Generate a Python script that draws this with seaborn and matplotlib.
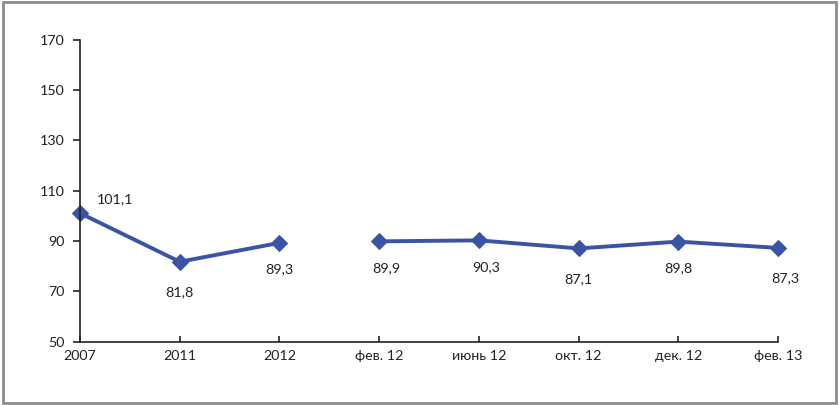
import matplotlib
matplotlib.use("Agg")
import matplotlib.pyplot as plt
import pandas as pd
import seaborn as sns

# --- данные ---
periods = ["2007", "2011", "2012", "фев. 12", "июнь 12", "окт. 12", "дек. 12", "фев. 13"]
values = [101.1, 81.8, 89.3, 89.9, 90.3, 87.1, 89.8, 87.3]
segments = [0, 0, 0, 1, 1, 1, 1, 1]   # разрыв линии между 2012 и фев. 12
y_ticks = [50, 70, 90, 110, 130, 150, 170]

LINE_COLOR = "#3A53A4"
FS = 10.3

sns.set_style("white")
plt.rcParams["font.family"] = ["Lato", "DejaVu Sans"]

df = pd.DataFrame({"period": periods, "value": values, "segment": segments})
df["pos"] = range(len(df))

fig = plt.figure(figsize=(8.39, 4.05), dpi=100)
ax = fig.add_axes([0.0954, 0.156, 0.832, 0.746])

sns.lineplot(data=df, x="pos", y="value", units="segment", estimator=None,
             color=LINE_COLOR, linewidth=2.8, marker="D", markersize=8,
             markeredgecolor=LINE_COLOR, ax=ax, legend=False)

# подписи значений
for i, row in df.iterrows():
    txt = f"{row['value']:.1f}".replace(".", ",")
    if i == 0:
        ax.annotate(txt, (row["pos"], row["value"]), xytext=(25, 10),
                    textcoords="offset points", ha="center", va="center",
                    fontsize=FS, color="#222222")
    else:
        dx = 5 if i in (3, 4, 7) else 0
        dy = -22 if i in (1, 5, 7) else -19
        ax.annotate(txt, (row["pos"], row["value"]), xytext=(dx, dy),
                    textcoords="offset points", ha="center", va="center",
                    fontsize=FS, color="#222222")

ax.set_xlim(0, len(periods) - 1)
ax.set_ylim(50, 170)
ax.set_yticks(y_ticks)
ax.set_xticks(df["pos"])
ax.set_xticklabels(periods)
ax.set_xlabel("")
ax.set_ylabel("")

for side in ["top", "right"]:
    ax.spines[side].set_visible(False)
for side in ["left", "bottom"]:
    ax.spines[side].set_color("#222222")
    ax.spines[side].set_linewidth(1.2)

ax.tick_params(axis="y", direction="out", length=5, width=1.2, color="#222222",
               labelsize=FS, labelcolor="#222222", pad=6, left=True)
ax.tick_params(axis="x", direction="in", length=4, width=1.2, color="#222222",
               labelsize=FS, labelcolor="#222222", pad=6, bottom=True)
for line in ax.lines:
    line.set_clip_on(False)

# рамка вокруг рисунка
fig.patches.append(plt.Rectangle((0.003, 0.005), 0.994, 0.99, transform=fig.transFigure,
                                 fill=False, edgecolor="#8c8c8c", linewidth=2))

fig.savefig("out.png", dpi=100)
